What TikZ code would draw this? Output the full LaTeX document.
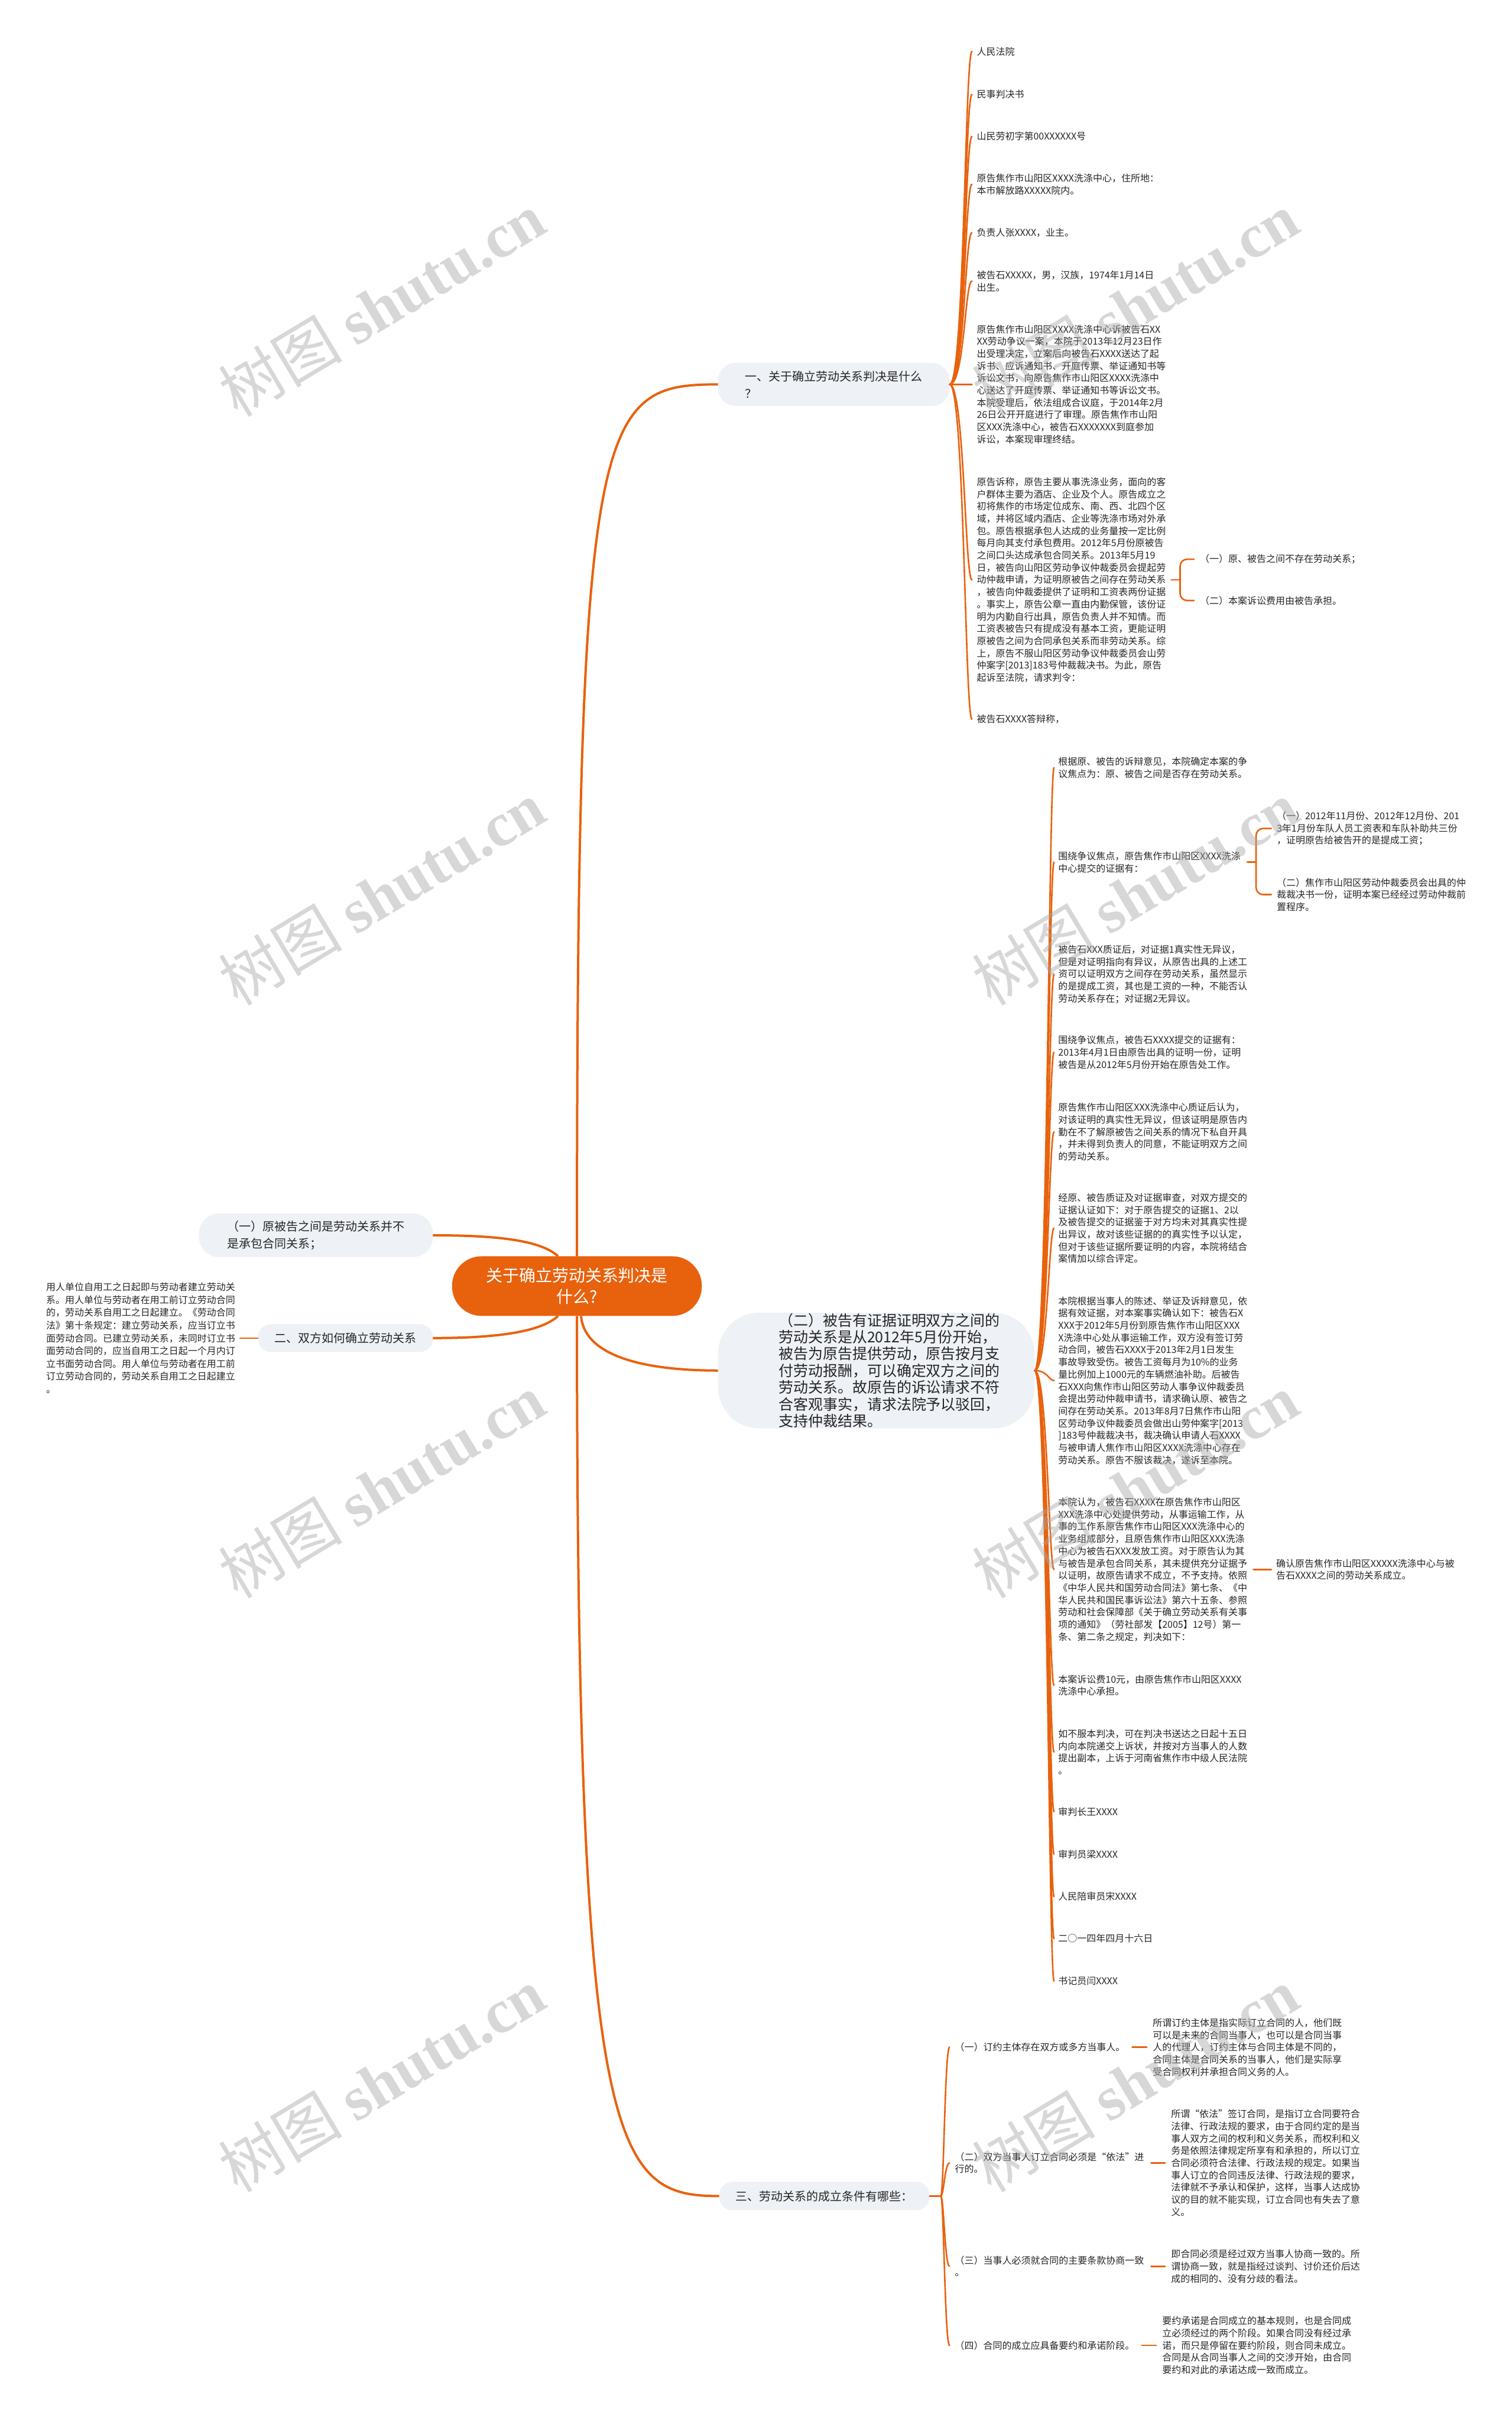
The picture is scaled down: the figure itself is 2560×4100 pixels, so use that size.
\documentclass[tikz,border=0pt]{standalone}
\usepackage{fontspec}
\setmainfont{Noto Sans CJK SC}
\newfontfamily\wmserif{Liberation Serif}
\usetikzlibrary{calc}
\definecolor{org}{HTML}{E8620E}
\definecolor{lgray}{HTML}{EEF1F5}
\definecolor{txt}{HTML}{262626}
\definecolor{wm}{HTML}{A8A8A8}
\newcommand\leaffont{\fontsize{16}{20.7}\selectfont}
\newcommand\leftfont{\fontsize{16}{21.6}\selectfont}
\newcommand\lonefont{\fontsize{20}{29}\selectfont}
\newcommand\ltwofont{\fontsize{25}{28.5}\selectfont}
\newcommand\rootfont{\fontsize{28}{36}\selectfont}
\tikzset{
  leaf/.style={font=\leaffont, align=left, inner sep=0pt, anchor=west, text=txt},
  lone/.style={fill=lgray, rounded corners=24pt, font=\lonefont, text=txt, inner sep=0pt, align=left},
  rootnode/.style={fill=org, rounded corners=50pt, font=\rootfont, text=white, align=center, minimum width=423pt, minimum height=101pt, inner sep=0pt},
  mainline/.style={draw=org, line width=4pt},
  subline/.style={draw=org, line width=2.6pt, line cap=round},
  wmark/.style={text=wm, text opacity=0.45, rotate=31, inner sep=0pt}
}
\begin{document}
\begin{tikzpicture}[x=1pt,y=-1pt]
\useasboundingbox (0,0) rectangle (2560,4100);
\fill[white] (0,0) rectangle (2560,4100);

% ---------- root and first level ----------
\node[rootnode] (root) at (977,2178) {关于确立劳动关系判决是\\什么?};
\node[lone, minimum width=396pt, minimum height=74pt, rounded corners=34pt] (a1) at (535,2092) {（一）原被告之间是劳动关系并不\\是承包合同关系；};
\node[lone, minimum width=296pt, minimum height=47pt, rounded corners=22pt] (a2) at (585,2266) {二、双方如何确立劳动关系};
\node[lone, minimum width=392pt, minimum height=73pt, rounded corners=30pt] (b1) at (1412,651) {一、关于确立劳动关系判决是什么\\？};
\node[lone, minimum width=536pt, minimum height=196pt, rounded corners=70pt] (b2) at (1484,2321) {};
\node[lone, fill=none, font=\ltwofont] (b2t) at (1506,2321) {（二）被告有证据证明双方之间的\\劳动关系是从2012年5月份开始，\\被告为原告提供劳动，原告按月支\\付劳动报酬，可以确定双方之间的\\劳动关系。故原告的诉讼请求不符\\合客观事实，请求法院予以驳回，\\支持仲裁结果。};
\node[lone, minimum width=356pt, minimum height=48pt, rounded corners=22pt] (b3) at (1396,3719) {三、劳动关系的成立条件有哪些：};

\node[leaf, font=\leftfont] (a2t) at (78,2266) {用人单位自用工之日起即与劳动者建立劳动关\\系。用人单位与劳动者在用工前订立劳动合同\\的，劳动关系自用工之日起建立。《劳动合同\\法》第十条规定：建立劳动关系，应当订立书\\面劳动合同。已建立劳动关系，未同时订立书\\面劳动合同的，应当自用工之日起一个月内订\\立书面劳动合同。用人单位与劳动者在用工前\\订立劳动合同的，劳动关系自用工之日起建立\\。};

\draw[mainline] (a1.east) .. controls (840,2092) and (915,2100) .. ([xshift=-32pt]root.north);
\draw[mainline] (a2.east) .. controls (840,2266) and (915,2256) .. ([xshift=-32pt]root.south);
\draw[mainline] (root.north) .. controls (977,700) and (1010,651) .. (b1.west);
\draw[mainline] ([xshift=7pt]root.south) .. controls (990,2300) and (1100,2321) .. (b2.west);
\draw[mainline] (root.south) .. controls (977,3650) and (1040,3719) .. (b3.west);
\draw[subline] ([xshift=8pt]a2t.east |- a2.west) -- (a2.west);

% ---------- section one ----------
\node[leaf] (c1) at (1654,87) {人民法院};
\node[leaf] (c2) at (1654,160) {民事判决书};
\node[leaf] (c3) at (1654,231) {山民劳初字第00XXXXXX号};
\node[leaf] (c4) at (1654,312) {原告焦作市山阳区XXXX洗涤中心，住所地：\\本市解放路XXXXX院内。};
\node[leaf] (c5) at (1654,394) {负责人张XXXX，业主。};
\node[leaf] (c6) at (1654,476) {被告石XXXXX，男，汉族，1974年1月14日\\出生。};
\node[leaf] (c7) at (1654,651) {原告焦作市山阳区XXXX洗涤中心诉被告石XX\\XX劳动争议一案，本院于2013年12月23日作\\出受理决定，立案后向被告石XXXX送达了起\\诉书、应诉通知书、开庭传票、举证通知书等\\诉讼文书，向原告焦作市山阳区XXXX洗涤中\\心送达了开庭传票、举证通知书等诉讼文书。\\本院受理后，依法组成合议庭，于2014年2月\\26日公开开庭进行了审理。原告焦作市山阳\\区XXX洗涤中心，被告石XXXXXXX到庭参加\\诉讼，本案现审理终结。};
\node[leaf] (c8) at (1654,982) {原告诉称，原告主要从事洗涤业务，面向的客\\户群体主要为酒店、企业及个人。原告成立之\\初将焦作的市场定位成东、南、西、北四个区\\域，并将区域内酒店、企业等洗涤市场对外承\\包。原告根据承包人达成的业务量按一定比例\\每月向其支付承包费用。2012年5月份原被告\\之间口头达成承包合同关系。2013年5月19\\日，被告向山阳区劳动争议仲裁委员会提起劳\\动仲裁申请，为证明原被告之间存在劳动关系\\，被告向仲裁委提供了证明和工资表两份证据\\。事实上，原告公章一直由内勤保管，该份证\\明为内勤自行出具，原告负责人并不知情。而\\工资表被告只有提成没有基本工资，更能证明\\原被告之间为合同承包关系而非劳动关系。综\\上，原告不服山阳区劳动争议仲裁委员会山劳\\仲案字[2013]183号仲裁裁决书。为此，原告\\起诉至法院，请求判令：};
\node[leaf] (c9) at (1654,1218) {被告石XXXX答辩称，};
\node[leaf] (c8a) at (2032,947) {（一）原、被告之间不存在劳动关系；};
\node[leaf] (c8b) at (2032,1017) {（二）本案诉讼费用由被告承担。};

\foreach \n in {c1,c2,c3,c4,c5,c6,c7,c8,c9}
  \draw[subline] (b1.east) .. controls ($(b1.east)+(25,0)$) and ($(\n.west)+(-20,0)$) .. ($(\n.west)+(-8,0)$);
\coordinate (k1) at ($(c8.east)+(24,0)$);
\draw[subline] ([xshift=9pt]c8.east) -- (k1);
\draw[subline, rounded corners=12pt] (k1) |- ([xshift=-10pt]c8a.west);
\draw[subline, rounded corners=12pt] (k1) |- ([xshift=-10pt]c8b.west);

% ---------- section two ----------
\node[leaf] (d1) at (1792,1300) {根据原、被告的诉辩意见，本院确定本案的争\\议焦点为：原、被告之间是否存在劳动关系。};
\node[leaf] (d2) at (1792,1460) {围绕争议焦点，原告焦作市山阳区XXXX洗涤\\中心提交的证据有：};
\node[leaf] (d3) at (1792,1650) {被告石XXX质证后，对证据1真实性无异议，\\但是对证明指向有异议，从原告出具的上述工\\资可以证明双方之间存在劳动关系，虽然显示\\的是提成工资，其也是工资的一种，不能否认\\劳动关系存在；对证据2无异议。};
\node[leaf] (d4) at (1792,1782) {围绕争议焦点，被告石XXXX提交的证据有：\\2013年4月1日由原告出具的证明一份，证明\\被告是从2012年5月份开始在原告处工作。};
\node[leaf] (d5) at (1792,1917) {原告焦作市山阳区XXX洗涤中心质证后认为，\\对该证明的真实性无异议，但该证明是原告内\\勤在不了解原被告之间关系的情况下私自开具\\，并未得到负责人的同意，不能证明双方之间\\的劳动关系。};
\node[leaf] (d6) at (1792,2080) {经原、被告质证及对证据审查，对双方提交的\\证据认证如下：对于原告提交的证据1、2以\\及被告提交的证据鉴于对方均未对其真实性提\\出异议，故对该些证据的的真实性予以认定，\\但对于该些证据所要证明的内容，本院将结合\\案情加以综合评定。};
\node[leaf] (d7) at (1792,2338) {本院根据当事人的陈述、举证及诉辩意见，依\\据有效证据，对本案事实确认如下：被告石X\\XXX于2012年5月份到原告焦作市山阳区XXX\\X洗涤中心处从事运输工作，双方没有签订劳\\动合同，被告石XXXX于2013年2月1日发生\\事故导致受伤。被告工资每月为10\%的业务\\量比例加上1000元的车辆燃油补助。后被告\\石XXX向焦作市山阳区劳动人事争议仲裁委员\\会提出劳动仲裁申请书，请求确认原、被告之\\间存在劳动关系。2013年8月7日焦作市山阳\\区劳动争议仲裁委员会做出山劳仲案字[2013\\]183号仲裁裁决书，裁决确认申请人石XXXX\\与被申请人焦作市山阳区XXXX洗涤中心存在\\劳动关系。原告不服该裁决，遂诉至本院。};
\node[leaf] (d8) at (1792,2658) {本院认为，被告石XXXX在原告焦作市山阳区\\XXX洗涤中心处提供劳动，从事运输工作，从\\事的工作系原告焦作市山阳区XXX洗涤中心的\\业务组成部分，且原告焦作市山阳区XXX洗涤\\中心为被告石XXX发放工资。对于原告认为其\\与被告是承包合同关系，其未提供充分证据予\\以证明，故原告请求不成立，不予支持。依照\\《中华人民共和国劳动合同法》第七条、《中\\华人民共和国民事诉讼法》第六十五条、参照\\劳动和社会保障部《关于确立劳动关系有关事\\项的通知》（劳社部发【2005】12号）第一\\条、第二条之规定，判决如下：};
\node[leaf] (d9) at (1792,2854) {本案诉讼费10元，由原告焦作市山阳区XXXX\\洗涤中心承担。};
\node[leaf] (d10) at (1792,2967) {如不服本判决，可在判决书送达之日起十五日\\内向本院递交上诉状，并按对方当事人的人数\\提出副本，上诉于河南省焦作市中级人民法院\\。};
\node[leaf] (d11) at (1792,3068) {审判长王XXXX};
\node[leaf] (d12) at (1792,3140) {审判员梁XXXX};
\node[leaf] (d13) at (1792,3212) {人民陪审员宋XXXX};
\node[leaf] (d14) at (1792,3283) {二○一四年四月十六日};
\node[leaf] (d15) at (1792,3355) {书记员闫XXXX};
\node[leaf] (g1) at (2162,1403) {（一）2012年11月份、2012年12月份、201\\3年1月份车队人员工资表和车队补助共三份\\，证明原告给被告开的是提成工资；};
\node[leaf] (g2) at (2162,1515) {（二）焦作市山阳区劳动仲裁委员会出具的仲\\裁裁决书一份，证明本案已经经过劳动仲裁前\\置程序。};
\node[leaf] (h1) at (2161,2658) {确认原告焦作市山阳区XXXXX洗涤中心与被\\告石XXXX之间的劳动关系成立。};

\foreach \n in {d1,d2,d3,d4,d5,d6,d7,d8,d9,d10,d11,d12,d13,d14,d15}
  \draw[subline] (b2.east) .. controls ($(b2.east)+(22,0)$) and ($(\n.west)+(-16,0)$) .. ($(\n.west)+(-7,0)$);
\coordinate (k2) at ($(d2.east)+(26,0)$);
\draw[subline] ([xshift=11pt]d2.east) -- (k2);
\draw[subline, rounded corners=12pt] (k2) |- ([xshift=-9pt]g1.west);
\draw[subline, rounded corners=12pt] (k2) |- ([xshift=-9pt]g2.west);
\draw[subline] ([xshift=10pt]d8.east) -- ([xshift=-8pt]h1.west);

% ---------- section three ----------
\node[leaf] (e1) at (1617,3467) {（一）订约主体存在双方或多方当事人。};
\node[leaf] (e2) at (1617,3663) {（二）双方当事人订立合同必须是“依法”进\\行的。};
\node[leaf] (e3) at (1617,3838) {（三）当事人必须就合同的主要条款协商一致\\。};
\node[leaf] (e4) at (1617,3972) {（四）合同的成立应具备要约和承诺阶段。};
\node[leaf] (f1) at (1952,3467) {所谓订约主体是指实际订立合同的人，他们既\\可以是未来的合同当事人，也可以是合同当事\\人的代理人，订约主体与合同主体是不同的，\\合同主体是合同关系的当事人，他们是实际享\\受合同权利并承担合同义务的人。};
\node[leaf] (f2) at (1983,3663) {所谓“依法”签订合同，是指订立合同要符合\\法律、行政法规的要求，由于合同约定的是当\\事人双方之间的权利和义务关系，而权利和义\\务是依照法律规定所享有和承担的，所以订立\\合同必须符合法律、行政法规的规定。如果当\\事人订立的合同违反法律、行政法规的要求，\\法律就不予承认和保护，这样，当事人达成协\\议的目的就不能实现，订立合同也有失去了意\\义。};
\node[leaf] (f3) at (1983,3838) {即合同必须是经过双方当事人协商一致的。所\\谓协商一致，就是指经过谈判、讨价还价后达\\成的相同的、没有分歧的看法。};
\node[leaf] (f4) at (1968,3972) {要约承诺是合同成立的基本规则，也是合同成\\立必须经过的两个阶段。如果合同没有经过承\\诺，而只是停留在要约阶段，则合同未成立。\\合同是从合同当事人之间的交涉开始，由合同\\要约和对此的承诺达成一致而成立。};

\coordinate (b3s) at ($(b3.east)+(19,0)$);
\draw[subline] (b3.east) -- (b3s);
\foreach \n in {e1,e2,e3,e4}
  \draw[subline] (b3s) .. controls ($(b3s)+(5,0)$) and ($(\n.west)+(-17,0)$) .. ($(\n.west)+(-9,0)$);
\draw[subline] ([xshift=12pt]e1.east) -- ([xshift=-10pt]f1.west);
\draw[subline] ([xshift=12pt]e2.east |- f2.west) -- ([xshift=-10pt]f2.west);
\draw[subline] ([xshift=12pt]e3.east |- f3.west) -- ([xshift=-10pt]f3.west);
\draw[subline] ([xshift=12pt]e4.east) -- ([xshift=-10pt]f4.west);

% ---------- watermarks ----------
\foreach \wx/\wy/\wn in {646/515/w1,1922/515/w2,646/1512/w3,1922/1512/w4,646/2516/w5,1922/2516/w6,646/3522/w7,1922/3522/w8}
  \node[wmark] (\wn) at (\wx,\wy) {\fontsize{105}{105}\selectfont 树图\ {\wmserif\bfseries shutu.cn}};
\end{tikzpicture}
\end{document}
